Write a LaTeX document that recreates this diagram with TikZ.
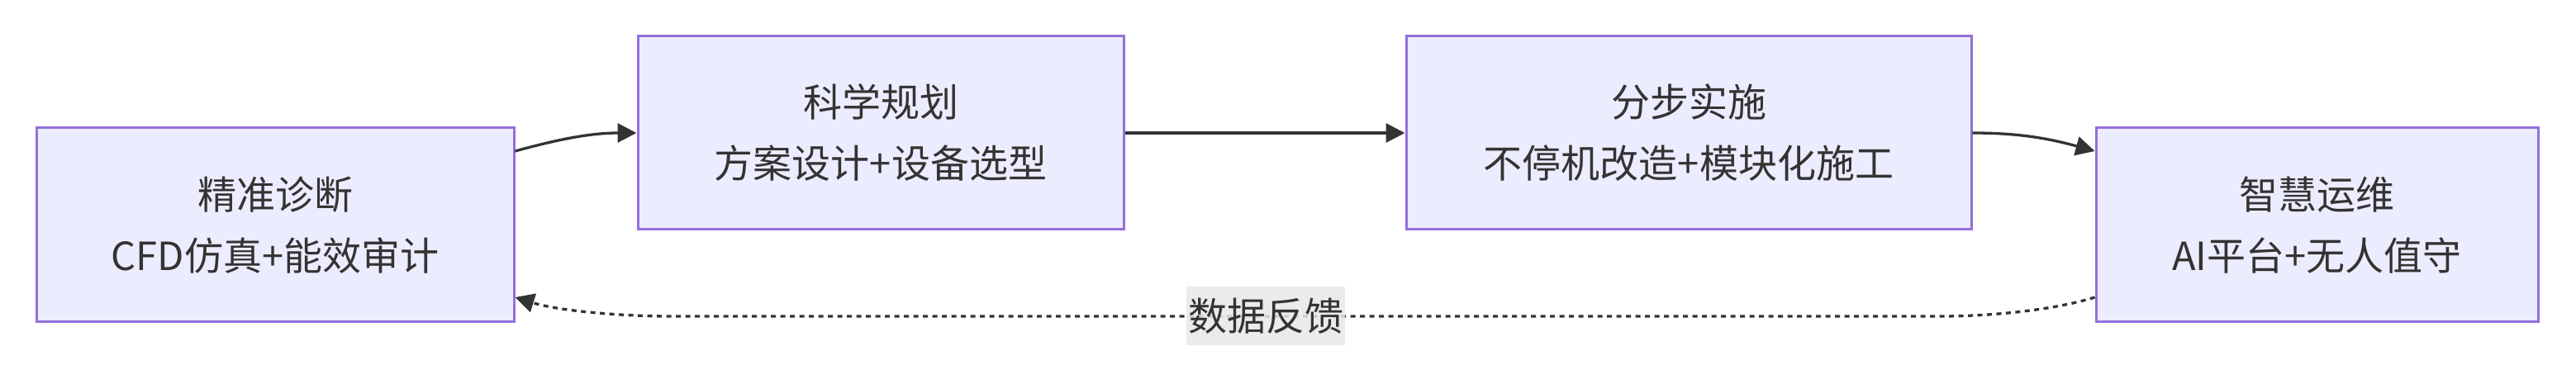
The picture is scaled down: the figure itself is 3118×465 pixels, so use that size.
\documentclass[tikz,border=0pt]{standalone}
\usepackage{fontspec}
\setmainfont{Noto Sans CJK SC}
\usetikzlibrary{arrows.meta}
\definecolor{nodefill}{HTML}{ECECFF}
\definecolor{nodeline}{HTML}{9370DB}
\definecolor{ink}{HTML}{333333}
\definecolor{lblbg}{HTML}{E8E8E8}
\begin{document}
\begin{tikzpicture}[x=1pt,y=1pt,
 box/.style={draw=nodeline, fill=nodefill, line width=3pt, text=ink, align=center,
   font=\fontsize{47}{74}\selectfont, inner sep=0pt},
 flow/.style={draw=ink, line width=3.3pt, -{Triangle[length=23pt,width=23pt]}},
 fb/.style={flow, dash pattern=on 6pt off 5.5pt},
 lbl/.style={fill=lblbg, fill opacity=0.85, text opacity=1, text=ink,
   font=\fontsize{47}{56}\selectfont, inner xsep=2pt, inner ysep=0pt, minimum height=71pt}]
\useasboundingbox (0,0) rectangle (3118,465);
\node[box, minimum width=578pt, minimum height=235pt] (n1) at (333,192.5) {精准诊断\\CFD仿真+能效审计};
\node[box, minimum width=588pt, minimum height=234pt] (n2) at (1066,304) {科学规划\\方案设计+设备选型};
\node[box, minimum width=684pt, minimum height=234pt] (n3) at (2044,304) {分步实施\\不停机改造+模块化施工};
\node[box, minimum width=535pt, minimum height=235pt] (n4) at (2804.5,192.5) {智慧运维\\AI平台+无人值守};
\coordinate (s12) at ([yshift=89.5pt]n1.east);
\coordinate (e34) at ([yshift=89.5pt]n4.west);
\coordinate (s41) at ([yshift=-87.5pt]n4.west);
\coordinate (e41) at ([yshift=-87.5pt]n1.east);
\coordinate (c1) at (2350,82);
\coordinate (c2) at (810,82);
\draw[flow] (s12) .. controls +(58,16) and +(-52,0) .. (n2.west);
\draw[flow] (n2.east) -- (n3.west);
\draw[flow] (n3.east) .. controls +(54,0) and +(-58,16) .. (e34);
\draw[fb] (s41) .. controls +(-58,-18) and +(45,0) .. (c1) -- (c2) .. controls +(-45,0) and +(58,-18) .. (e41);
\node[lbl] (fbl) at (1532,82) {数据反馈};
\end{tikzpicture}
\end{document}
